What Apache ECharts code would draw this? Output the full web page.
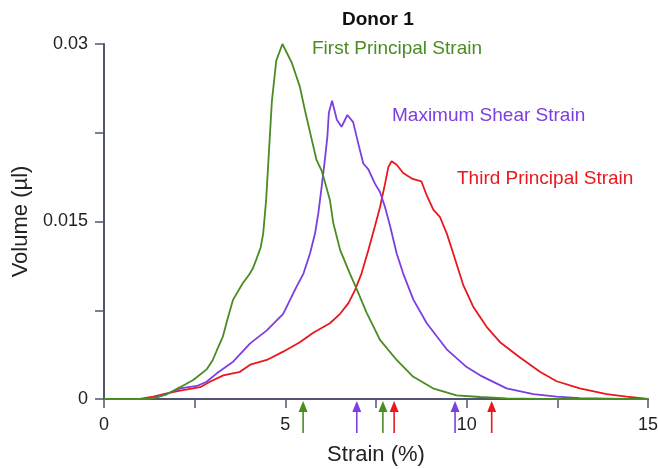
<!DOCTYPE html>
<html><head><meta charset="utf-8">
<script src="https://cdn.jsdelivr.net/npm/echarts@6/dist/echarts.min.js"></script>
<style>html,body{margin:0;padding:0;background:#fff}#c{width:658px;height:469px}</style>
</head><body><div id="c"></div>
<script>
// Strain (%) vs Volume (µl)
const firstPrincipal = [[0,0],[1.0,0],[1.2,0.00002],[1.4,0.0001],[1.73,0.0004],[2.1,0.001],[2.46,0.0016],[2.83,0.0025],[3.0,0.0033],[3.11,0.0041],[3.28,0.0053],[3.42,0.0069],[3.56,0.0084],[3.83,0.0098],[4.0,0.0105],[4.1,0.0110],[4.2,0.0118],[4.32,0.0128],[4.39,0.0140],[4.47,0.0168],[4.55,0.0210],[4.63,0.0252],[4.75,0.0286],[4.92,0.0300],[5.18,0.0284],[5.40,0.0264],[5.54,0.0244],[5.73,0.0219],[5.86,0.0202],[6.0,0.0193],[6.14,0.0178],[6.23,0.0168],[6.32,0.0149],[6.51,0.0126],[6.78,0.0106],[6.98,0.0092],[7.24,0.0073],[7.61,0.0050],[8.07,0.0033],[8.52,0.0019],[9.07,0.0009],[9.72,0.0003],[10.37,0.00017],[11.1,0.00006],[12,0],[15,0]];
const maxShear = [[0,0],[1.27,0],[1.73,0.00042],[2.1,0.0009],[2.56,0.0011],[2.83,0.00146],[3.11,0.00217],[3.56,0.00315],[4.03,0.0047],[4.49,0.0058],[4.94,0.0072],[5.31,0.0095],[5.5,0.0106],[5.68,0.0123],[5.82,0.0140],[5.91,0.0157],[6.0,0.0179],[6.09,0.0202],[6.16,0.0222],[6.2,0.0242],[6.29,0.0252],[6.42,0.0236],[6.55,0.0230],[6.71,0.0240],[6.87,0.0234],[7.01,0.0216],[7.15,0.0199],[7.29,0.0194],[7.47,0.0182],[7.61,0.0175],[7.75,0.0162],[7.89,0.0146],[8.07,0.0123],[8.25,0.0106],[8.53,0.0084],[8.9,0.0064],[9.45,0.0042],[10.0,0.0027],[10.37,0.0020],[11.1,0.0009],[11.84,0.00042],[12.48,0.0002],[13.12,0.00008],[14.31,0],[15,0]];
const thirdPrincipal = [[0,0],[0.99,0],[1.36,0.0002],[1.73,0.00048],[2.1,0.0007],[2.65,0.001],[2.92,0.00146],[3.29,0.002],[3.75,0.0023],[4.03,0.0029],[4.49,0.0033],[4.94,0.0040],[5.4,0.0048],[5.77,0.0056],[6.23,0.0064],[6.51,0.0072],[6.74,0.0081],[6.92,0.0092],[7.1,0.0106],[7.29,0.0126],[7.47,0.0146],[7.61,0.0162],[7.75,0.0182],[7.84,0.0196],[7.93,0.0201],[8.07,0.0198],[8.25,0.0191],[8.51,0.0186],[8.75,0.0184],[8.9,0.0172],[9.08,0.0160],[9.26,0.0154],[9.45,0.0140],[9.63,0.0123],[9.91,0.0096],[10.18,0.0078],[10.55,0.0061],[10.92,0.0048],[11.47,0.0035],[12.02,0.0023],[12.48,0.0015],[13.12,0.0009],[13.86,0.00042],[14.41,0.0002],[15,0]];
const firstArrows = [5.49, 7.69];
const shearArrows = [6.97, 9.68];
const thirdArrows = [8.0, 10.69];
const xTickLabels = [0, 5, 10, 15];
const yTickLabels = ['0', '0.015', '0.03'];

const GREEN = '#4a8c22', PURPLE = '#7b3fe0', RED = '#e8181e', AXIS = '#525571';
const FONT = 'Arial, "Liberation Sans", sans-serif';

function near(a, b) { return Math.abs(a - b) < 1e-9; }

function arrowSeries(name, vals, color) {
  return {
    type: 'custom', name: name, clip: false, z: 5, silent: true,
    itemStyle: { color: color },
    data: vals.map(v => [v, 0]),
    renderItem: function (params, api) {
      const p = api.coord([api.value(0), 0]);
      const x = p[0], y0 = p[1];
      return { type: 'group', children: [
        { type: 'line', shape: { x1: x, y1: y0 + 11, x2: x, y2: y0 + 34 }, style: { stroke: color, lineWidth: 1.6 } },
        { type: 'polygon', shape: { points: [[x, y0 + 2], [x - 4.5, y0 + 13], [x + 4.5, y0 + 13]] }, style: { fill: color } }
      ]};
    }
  };
}
function lineSeries(name, data, color) {
  return { type: 'line', name: name, data: data, showSymbol: false, symbol: 'none',
    lineStyle: { color: color, width: 1.8 }, itemStyle: { color: color }, z: 3 };
}

const chart = echarts.init(document.getElementById('c'), null, { renderer: 'canvas' });
chart.setOption({
  animation: false,
  backgroundColor: '#fff',
  textStyle: { fontFamily: FONT },
  grid: { left: 104, right: 10, top: 44, bottom: 70, containLabel: false, outerBoundsMode: 'none' },
  xAxis: {
    type: 'value', min: 0, max: 15, interval: 2.5,
    name: 'Strain (%)', nameLocation: 'middle', nameGap: 45,
    nameTextStyle: { fontSize: 22, color: '#222', fontFamily: FONT },
    axisLine: { show: true, onZero: false, lineStyle: { color: AXIS, width: 2 } },
    axisTick: { show: true, inside: false, length: 9, lineStyle: { color: AXIS, width: 1.5 } },
    axisLabel: { fontSize: 18, color: '#222', margin: 17, fontFamily: FONT,
      formatter: v => xTickLabels.some(t => near(t, v)) ? String(Math.round(v)) : '' },
    splitLine: { show: false }
  },
  yAxis: {
    type: 'value', min: 0, max: 0.03, interval: 0.0075,
    name: 'Volume (µl)', nameLocation: 'middle', nameGap: 71,
    nameTextStyle: { fontSize: 22, color: '#222', fontFamily: FONT },
    axisLine: { show: true, lineStyle: { color: AXIS, width: 2 } },
    axisTick: { show: true, inside: false, length: 9, lineStyle: { color: AXIS, width: 1.5 } },
    axisLabel: { fontSize: 18, color: '#222', margin: 16, fontFamily: FONT,
      formatter: v => { const i = yTickLabels.findIndex(t => near(parseFloat(t), v)); return i >= 0 ? yTickLabels[i] : ''; } },
    splitLine: { show: false }
  },
  graphic: [
    { type: 'text', left: 342, top: 10, style: { text: 'Donor 1', fill: '#111', font: 'bold 19px ' + FONT } },
    { type: 'text', left: 312, top: 39, style: { text: 'First Principal Strain', fill: GREEN, font: '19px ' + FONT } },
    { type: 'text', left: 392, top: 106, style: { text: 'Maximum Shear Strain', fill: PURPLE, font: '19px ' + FONT } },
    { type: 'text', left: 457, top: 169, style: { text: 'Third Principal Strain', fill: RED, font: '19px ' + FONT } }
  ],
  series: [
    lineSeries('Third Principal Strain', thirdPrincipal, RED),
    lineSeries('Maximum Shear Strain', maxShear, PURPLE),
    lineSeries('First Principal Strain', firstPrincipal, GREEN),
    arrowSeries('First arrows', firstArrows, GREEN),
    arrowSeries('Shear arrows', shearArrows, PURPLE),
    arrowSeries('Third arrows', thirdArrows, RED)
  ]
});
</script></body></html>
